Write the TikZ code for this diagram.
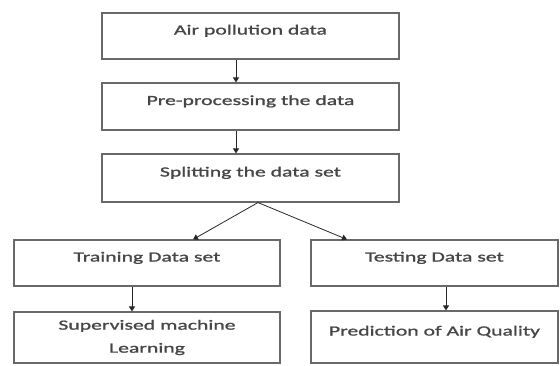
\documentclass[tikz,border=0pt]{standalone}
\usepackage{fontspec}
\setmainfont{Carlito}[FakeStretch=1.55,FakeBold=1.2]
\usepackage{tikz}
\usetikzlibrary{arrows.meta,positioning,calc}
\definecolor{boxGray}{RGB}{105,105,105}
\definecolor{textGray}{RGB}{70,70,70}
\definecolor{arrowDark}{RGB}{40,40,40}
\tikzset{
  flowbox/.style={
    rectangle, draw=boxGray, line width=1.1pt, fill=white,
    text=textGray, font=\fontsize{14}{23}\selectfont, align=center
  },
  upperText/.style={text height=9pt, text depth=12pt},
  flowArrow/.style={-{Triangle[width=6pt,length=5pt]}, line width=0.8pt, color=arrowDark}
}

\begin{document}
\begin{tikzpicture}[x=1pt,y=-1pt]
    \useasboundingbox (0,0) rectangle (560,365);

    \node[flowbox, upperText, minimum width=297pt, minimum height=46pt] (data) at (250.5,36) {Air pollution data};
    \node[flowbox, upperText, minimum width=297pt, minimum height=47pt] (prep) at (250.5,106.5) {Pre-processing the data};
    \node[flowbox, upperText, minimum width=297pt, minimum height=48pt] (split) at (250.5,178) {Splitting the data set};

    \node[flowbox, upperText, minimum width=266pt, minimum height=46pt] (train) at (147,263) {Training Data set};
    \node[flowbox, upperText, minimum width=247pt, minimum height=46pt] (test) at (434.5,263) {Testing Data set};

    \node[flowbox, minimum width=266pt, minimum height=51pt] (learn) at (147,337.5) {Supervised machine\\Learning};
    \node[flowbox, upperText, minimum width=247pt, minimum height=52pt] (predict) at (434.5,337) {Prediction of Air Quality};

    % vertical chain
    \draw[flowArrow] ([xshift=-14.5pt]data.south) -- ([xshift=-14.5pt]prep.north);
    \draw[flowArrow] ([xshift=-14.5pt]prep.south) -- ([xshift=-14.5pt]split.north);

    % split into the two sets
    \coordinate (fork) at ([xshift=7.5pt]split.south);
    \draw[flowArrow] (fork) -- ([xshift=46pt]train.north);
    \draw[flowArrow] (fork) -- ([xshift=-87.5pt]test.north);

    \draw[flowArrow] ([xshift=-15pt]train.south) -- ([xshift=-15pt]learn.north);
    \draw[flowArrow] ([xshift=11.5pt]test.south) -- ([xshift=11.5pt]predict.north);
\end{tikzpicture}
\end{document}
